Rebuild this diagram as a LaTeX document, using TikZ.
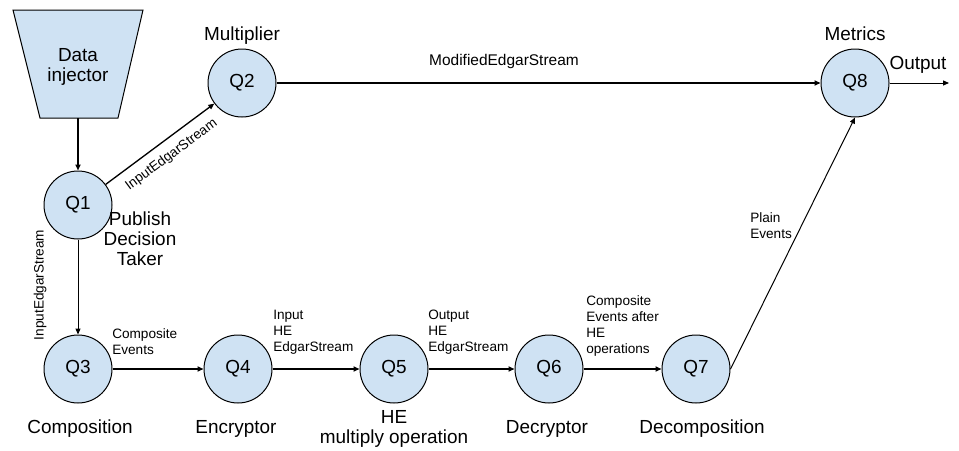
\documentclass[tikz,border=0pt]{standalone}
\usepackage{fontspec}
\setmainfont{Liberation Sans}
\usetikzlibrary{arrows.meta}
\definecolor{qfill}{HTML}{CFE2F3}
\begin{document}
\begin{tikzpicture}[x=0.75pt,y=-0.75pt,
  q/.style={circle,draw=black,line width=0.75pt,fill=qfill,minimum size=51pt,inner sep=0pt,font=\fontsize{14.2}{15}\selectfont},
  big/.style={inner sep=0pt,font=\fontsize{14.2}{15}\selectfont,align=center},
  lab/.style={inner sep=0pt,font=\fontsize{10.2}{12}\selectfont},
  small/.style={lab,align=left,anchor=north west},
  medlab/.style={inner sep=0pt,font=\fontsize{11.6}{14}\selectfont},
  tipped/.style={-{Triangle[length=4.5pt,width=3.8pt]}},
  thickarr/.style={tipped,line width=1.5pt},
  medarr/.style={tipped,line width=1pt},
  thinarr/.style={tipped,line width=0.75pt}
]
\useasboundingbox (0,0) rectangle (959,450);

% data injector
\draw[fill=qfill,line width=0.75pt] (13,10) -- (143,10) -- (118,118) -- (40,118) -- cycle;
\node[big,anchor=north] (inj) at (78,48) {Data\\injector};
\coordinate (injb) at (78,118);

% queries
\node[q] (q1) at (78,205) {Q1};
\node[q] (q2) at (242,83) {Q2};
\node[q] (q3) at (78,369) {Q3};
\node[q] (q4) at (238,369) {Q4};
\node[q] (q5) at (394,369) {Q5};
\node[q] (q6) at (549,369) {Q6};
\node[q] (q7) at (696,369) {Q7};
\node[q] (q8) at (855,83) {Q8};
\coordinate (out) at (949,83);

% connectors
\draw[thickarr] (injb) -- (q1);
\draw[medarr] (q1) -- (q2) node[pos=0.52,sloped,below=6.5pt,lab] (l12) {InputEdgarStream};
\draw[thinarr] (q1) -- (q3);
\node[lab,rotate=90] (l13) at (40,285) {InputEdgarStream};
\draw[thickarr] (q2) -- (q8);
\node[medlab,anchor=base] (lmod) at (504,65) {ModifiedEdgarStream};
\draw[thickarr] (q3) -- (q4);
\draw[thickarr] (q4) -- (q5);
\draw[thickarr] (q5) -- (q6);
\draw[thickarr] (q6) -- (q7);
\draw[thinarr] (q7.east) -- (q8.south);
\draw[thinarr] (q8) -- (out);

% names
\node[big,anchor=base] (lmult) at (242,40) {Multiplier};
\node[big,anchor=base] (lmet) at (855,40) {Metrics};
\node[big,anchor=base] (lout) at (918,69) {Output};
\node[big,anchor=north] (lpub) at (140,212) {Publish\\Decision\\Taker};
\node[big,anchor=base] (lcomp) at (80,433) {Composition};
\node[big,anchor=base] (lenc) at (236,433) {Encryptor};
\node[big,anchor=north] (lhe) at (394,410) {HE\\multiply operation};
\node[big,anchor=base] (ldec) at (547,433) {Decryptor};
\node[big,anchor=base] (ldecomp) at (702,433) {Decomposition};

% edge labels
\node[small] (l34) at (112,328) {Composite\\Events};
\node[small] (l45) at (273,310) {Input\\HE\\EdgarStream};
\node[small] (l56) at (428,310) {Output\\HE\\EdgarStream};
\node[small] (l67) at (586,295) {Composite\\Events after\\HE\\operations};
\node[small] (l78) at (750,212) {Plain\\Events};
\end{tikzpicture}
\end{document}
